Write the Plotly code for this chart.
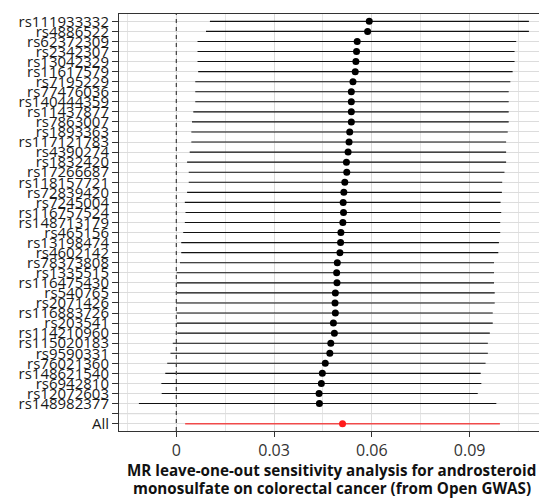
import plotly.graph_objects as go

snps = ["rs111933332", "rs4886522", "rs62372309", "rs2342307", "rs13042329", "rs11617579",
        "rs7195229", "rs77476036", "rs140444359", "rs11437877", "rs7863007", "rs1893363",
        "rs117121783", "rs4390274", "rs1832420", "rs17266687", "rs118157721", "rs72839420",
        "rs7245004", "rs116757524", "rs148713179", "rs465156", "rs13198474", "rs4602142",
        "rs78373808", "rs1335515", "rs116475430", "rs540765", "rs2071426", "rs116883726",
        "rs203541", "rs114210960", "rs115020183", "rs9590331", "rs76021360", "rs148621540",
        "rs6942810", "rs12072603", "rs148982377"]

b = [0.0592, 0.0587, 0.0555, 0.0553, 0.0551, 0.0549, 0.0542, 0.0537, 0.0537, 0.0537,
     0.0537, 0.0532, 0.0530, 0.0527, 0.0522, 0.0523, 0.0517, 0.0514, 0.0512, 0.0513,
     0.0511, 0.0505, 0.0504, 0.0502, 0.0494, 0.0492, 0.0493, 0.0488, 0.0487, 0.0488,
     0.0482, 0.0485, 0.0474, 0.0471, 0.0457, 0.0448, 0.0445, 0.0438, 0.0439]

lo = [0.0103, 0.0091, 0.0065, 0.0065, 0.0065, 0.0067, 0.0058, 0.0058, 0.0058, 0.0052,
      0.0048, 0.0046, 0.0046, 0.0041, 0.0033, 0.0038, 0.0038, 0.0033, 0.0026, 0.0028,
      0.0026, 0.0021, 0.0015, 0.0015, 0.0011, 0.0001, 0.0001, 0.0001, -0.0001, 0.0001,
      0.0002, 0.0003, -0.0011, -0.0018, -0.0028, -0.0034, -0.0046, -0.0045, -0.0115]

hi = [0.1082, 0.1082, 0.1043, 0.1038, 0.1038, 0.1032, 0.1025, 0.1020, 0.1020, 0.1020,
      0.1020, 0.1017, 0.1012, 0.1012, 0.1012, 0.1007, 0.1000, 0.0999, 0.0995, 0.0997,
      0.0994, 0.0994, 0.0990, 0.0988, 0.0975, 0.0975, 0.0975, 0.0977, 0.0977, 0.0971,
      0.0971, 0.0962, 0.0956, 0.0956, 0.0949, 0.0934, 0.0936, 0.0925, 0.0982]

all_label = "All"
all_b = 0.0510
all_lo = 0.0027
all_hi = 0.0993

title_lines = ["MR leave-one-out sensitivity analysis for androsteroid",
               "monosulfate on colorectal cancer (from Open GWAS)"]

labels = snps + ["", all_label]
ypos = list(range(1, len(labels) + 1))
snp_y = ypos[:len(snps)]
blank_y = ypos[len(snps)]
all_y = ypos[-1]

fig = go.Figure()

fig.add_trace(go.Scatter(
    x=b, y=snp_y, mode="markers",
    marker=dict(color="black", size=7),
    error_x=dict(type="data", symmetric=False,
                 array=[h - v for h, v in zip(hi, b)],
                 arrayminus=[v - l for v, l in zip(b, lo)],
                 color="#111111", thickness=1.1, width=0),
    showlegend=False, hoverinfo="skip"))

fig.add_trace(go.Scatter(
    x=[all_b], y=[all_y], mode="markers",
    marker=dict(color="#ff1a1a", size=7),
    error_x=dict(type="data", symmetric=False,
                 array=[all_hi - all_b], arrayminus=[all_b - all_lo],
                 color="#f04a4a", thickness=1.5, width=0),
    showlegend=False, hoverinfo="skip"))

fig.add_shape(type="line", xref="x", yref="paper", x0=0, x1=0, y0=0, y1=1,
              line=dict(color="#4a4a4a", width=1.3, dash="4px,4px"), layer="above")
fig.add_shape(type="line", xref="paper", yref="y", x0=0, x1=1, y0=blank_y, y1=blank_y,
              line=dict(color="#a8a8a8", width=1), layer="between")

for i, line in enumerate(title_lines):
    fig.add_annotation(text="<b>" + line + "</b>", xref="paper", yref="paper",
                       x=0.5, y=0, xanchor="center", yanchor="middle",
                       xshift=-5, yshift=-38.5 - 18.5 * i, showarrow=False,
                       font=dict(size=15.2, color="#111111"))

font = "Open Sans"
fig.update_layout(
    width=547, height=500,
    margin=dict(l=111, r=1, t=6, b=77),
    plot_bgcolor="white", paper_bgcolor="white",
    font=dict(family=font, color="#1a1a1a"),
    xaxis=dict(
        range=[-0.0176, 0.1159],
        tickmode="linear", tick0=0, dtick=0.03,
        tickformat="~g",
        ticks="outside", ticklen=5, tickcolor="#333333",
        tickfont=dict(size=16, color="#333333"),
        showgrid=True, gridcolor="#dcdcdc", gridwidth=1,
        minor=dict(dtick=0.015, tick0=0, showgrid=True, gridcolor="#e6e6e6", gridwidth=1, ticks=""),
        zeroline=False,
        showline=True, linecolor="#333333", linewidth=1, mirror=True,
    ),
    yaxis=dict(
        range=[all_y + 0.73, 0.27],
        tickmode="array", tickvals=ypos, ticktext=labels,
        ticks="outside", ticklen=6, tickcolor="#333333",
        tickfont=dict(size=15, color="#1a1a1a"),
        showgrid=True, gridcolor="#dcdcdc", gridwidth=1,
        zeroline=False,
        showline=True, linecolor="#333333", linewidth=1, mirror=True,
    ),
)

fig.write_html("out.html")
